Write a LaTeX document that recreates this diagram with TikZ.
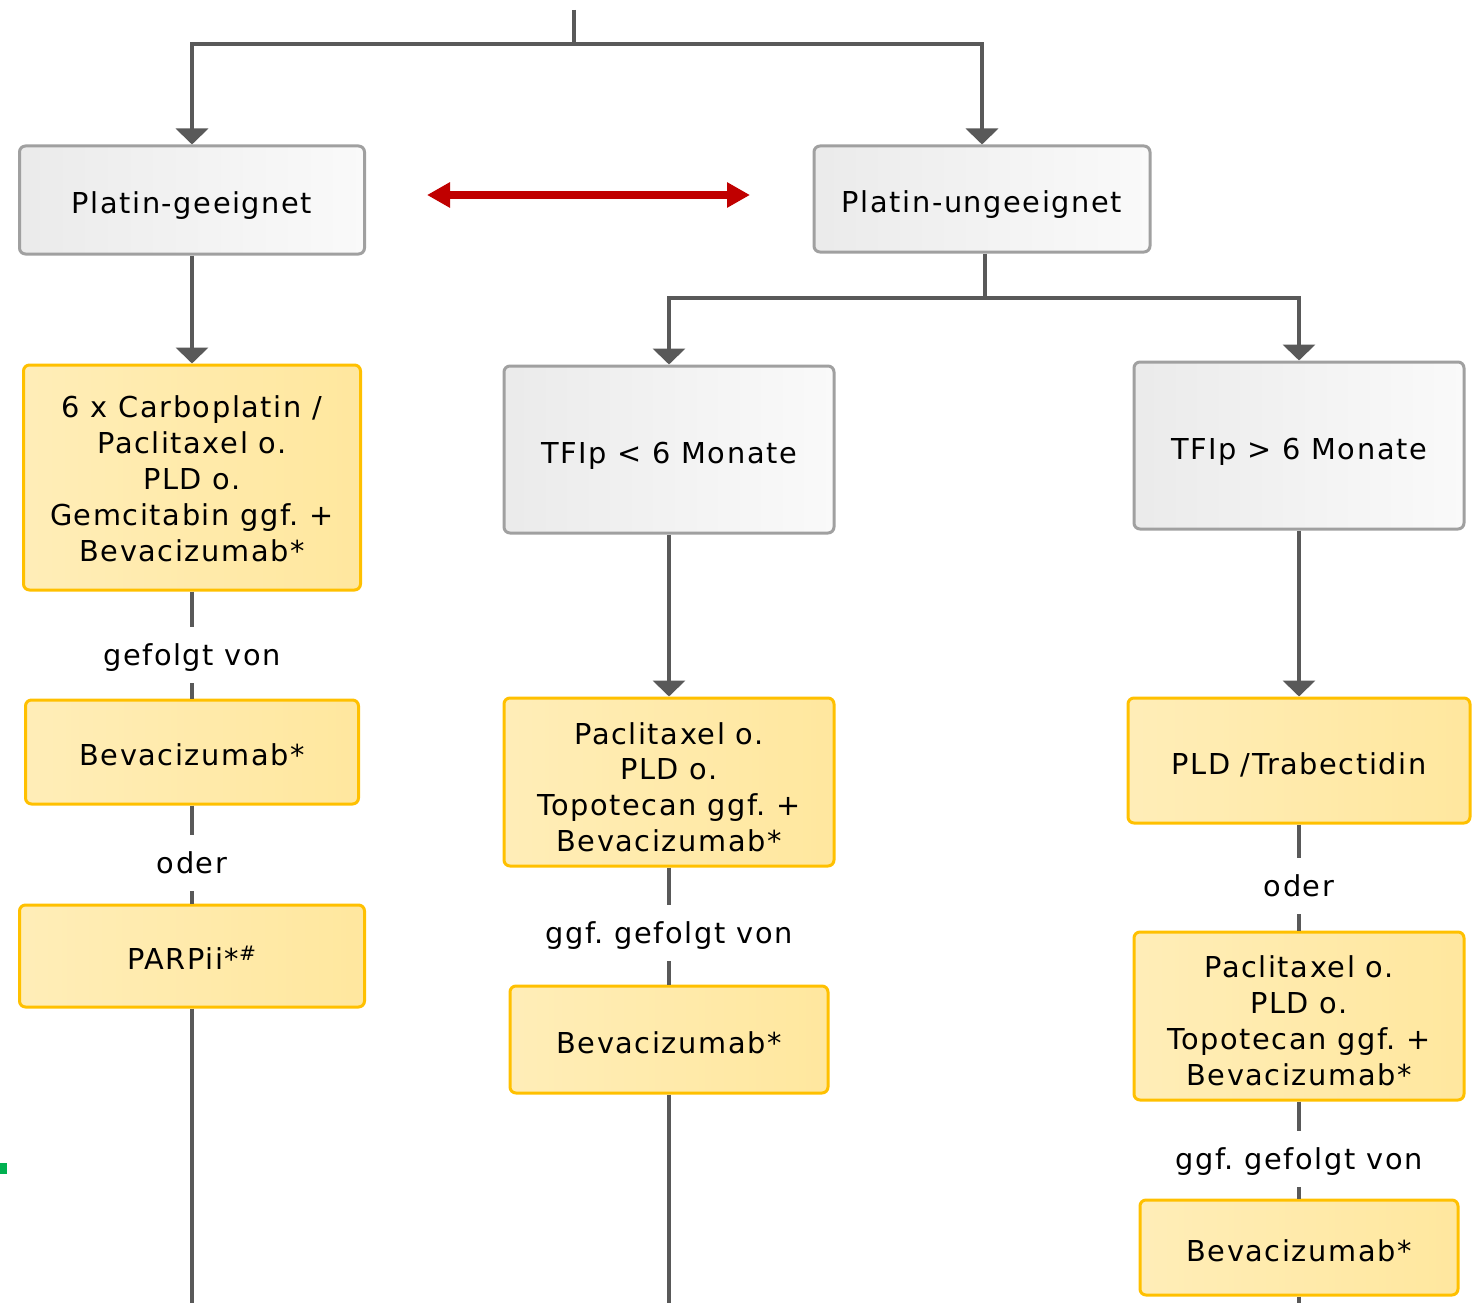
\documentclass[tikz,border=0pt]{standalone}
\usepackage{fontspec}
\setmainfont{DejaVu Sans}[LetterSpace=5.5]
\usetikzlibrary{arrows.meta}

\definecolor{linie}{HTML}{595959}
\definecolor{rahmengrau}{HTML}{A0A0A0}
\definecolor{rahmengelb}{HTML}{FFC000}
\definecolor{rot}{HTML}{C00000}
\definecolor{gruen}{HTML}{00B050}

\newcommand{\zeilenstuetze}{\rule[-8pt]{0pt}{43pt}}

\tikzset{
    box/.style={rounded corners=6pt, line width=3pt, align=center,
        font=\fontsize{28.8}{35.8}\selectfont, inner sep=0pt,
        execute at begin node=\zeilenstuetze},
    mehrzeilig/.style={execute at begin node={\rule{0pt}{#1}}},
    graubox/.style={box, draw=rahmengrau, shading angle=135,
        left color=black!8, right color=black!2},
    gelbbox/.style={box, draw=rahmengelb, shading angle=135,
        left color=rahmengelb!28, right color=rahmengelb!38!white},
    marke/.style={font=\fontsize{28.8}{35}\selectfont, inner ysep=14pt,
        text height=24pt, text depth=4pt},
    pfeil/.style={draw=linie, line width=4pt,
        -{Triangle[width=32pt,length=16pt]}},
    strich/.style={draw=linie, line width=4pt},
}

\begin{document}
\frenchspacing
\begin{tikzpicture}[x=1pt,y=-1pt]
    \useasboundingbox (0,0) rectangle (1478,1303);
    %\draw[help lines] (0,0) grid[step=100] (1478,1303);

    % obere Ebene
    \node[graubox, minimum width=345pt, minimum height=108pt] (pg) at (192,200) {Platin-geeignet};
    \node[graubox, minimum width=336pt, minimum height=106pt] (pu) at (982,199) {Platin-ungeeignet};
    \coordinate (oben) at (574,10);
    \coordinate (knick) at (574,44);
    \draw[pfeil] (oben) -- (knick) -| (pg);
    \draw[pfeil] (knick) -| (pu);

    \coordinate (rl) at (427,195);
    \coordinate (rr) at (750,195);
    \draw[rot, line width=8pt, {Triangle[width=24pt,length=23pt]}-{Triangle[width=24pt,length=23pt]}] (rl) -- (rr);

    % linke Spalte
    \node[gelbbox, mehrzeilig=175pt, minimum width=337pt, minimum height=225pt] (carbo) at (192,477.5)
        {6 x Carboplatin /\\Paclitaxel o.\\PLD o.\\Gemcitabin ggf. +\\Bevacizumab*};
    \node[gelbbox, minimum width=333pt, minimum height=104pt] (beva1) at (192,752) {Bevacizumab*};
    \node[gelbbox, minimum width=345pt, minimum height=102pt] (parp) at (192,956) {PARPii*\textsuperscript{\#}};
    \node[marke] (gv1) at (192,655) {gefolgt von};
    \node[marke] (od1) at (192,863) {oder};
    \coordinate (ende1) at (192,1303);
    \draw[pfeil] (pg) -- (carbo);
    \draw[strich] (carbo) -- (gv1);
    \draw[strich] (gv1) -- (beva1);
    \draw[strich] (beva1) -- (od1);
    \draw[strich] (od1) -- (parp);
    \draw[strich] (parp) -- (ende1);

    % Verzweigung Platin-ungeeignet
    \node[graubox, minimum width=330pt, minimum height=167pt] (tk) at (669,449.5) {TFIp < 6 Monate};
    \node[graubox, minimum width=330pt, minimum height=167pt] (tg) at (1299,445.5) {TFIp > 6 Monate};
    \coordinate (knick2) at (985,298);
    \draw[pfeil] (knick2 |- pu.south) -- (knick2) -| (tk);
    \draw[pfeil] (knick2) -| (tg);

    % mittlere Spalte
    \node[gelbbox, mehrzeilig=147pt, minimum width=330pt, minimum height=168pt] (pacm) at (669,782)
        {Paclitaxel o.\\PLD o.\\Topotecan ggf. +\\Bevacizumab*};
    \node[gelbbox, minimum width=318pt, minimum height=107pt] (beva2) at (669,1039.5) {Bevacizumab*};
    \node[marke] (gv2) at (669,933) {ggf. gefolgt von};
    \coordinate (ende2) at (669,1303);
    \draw[pfeil] (tk) -- (pacm);
    \draw[strich] (pacm) -- (gv2);
    \draw[strich] (gv2) -- (beva2);
    \draw[strich] (beva2) -- (ende2);

    % rechte Spalte
    \node[gelbbox, minimum width=342pt, minimum height=125pt] (pld) at (1299,760.5) {PLD /Trabectidin};
    \node[gelbbox, mehrzeilig=146pt, minimum width=330pt, minimum height=168pt] (pacr) at (1299,1016)
        {Paclitaxel o.\\PLD o.\\Topotecan ggf. +\\Bevacizumab*};
    \node[gelbbox, minimum width=318pt, minimum height=95pt] (beva3) at (1299,1247.5) {Bevacizumab*};
    \node[marke] (od2) at (1299,886) {oder};
    \node[marke] (gv3) at (1299,1159) {ggf. gefolgt von};
    \coordinate (ende3) at (1299,1303);
    \draw[pfeil] (tg) -- (pld);
    \draw[strich] (pld) -- (od2);
    \draw[strich] (od2) -- (pacr);
    \draw[strich] (pacr) -- (gv3);
    \draw[strich] (gv3) -- (beva3);
    \draw[strich] (beva3) -- (ende3);

    \fill[gruen] (0,1163) rectangle (7,1174);
\end{tikzpicture}
\end{document}
